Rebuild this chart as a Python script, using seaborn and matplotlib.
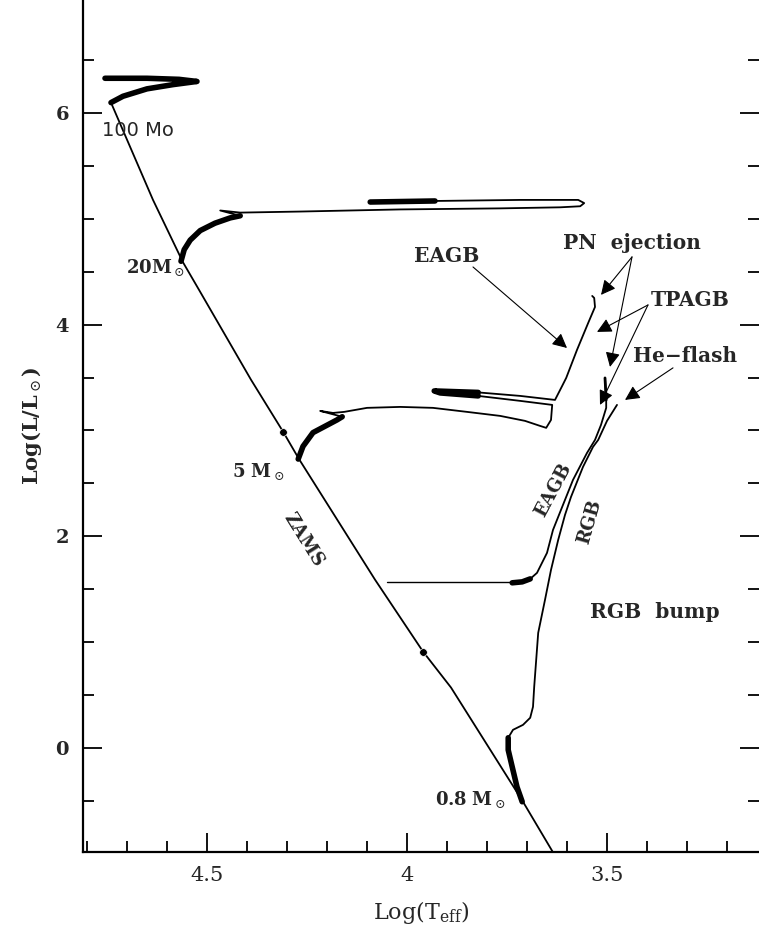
import numpy as np
import pandas as pd
import matplotlib
matplotlib.use("Agg")
import matplotlib.pyplot as plt
import seaborn as sns

# DATA (log Teff, log L/Lsun)

zams_logT = [4.74, 4.635, 4.56, 4.52, 4.39, 4.31, 4.27, 4.08, 3.96, 3.89, 3.71, 3.63]
zams_logL = [6.10, 5.18, 4.59, 4.33, 3.48, 2.99, 2.73, 1.59, 0.91, 0.57, -0.51, -1.02]

zams_dot_logT = [4.31, 3.96]
zams_dot_logL = [2.99, 0.91]

m100_logT = [4.74, 4.71, 4.65, 4.585, 4.525, 4.57, 4.65, 4.755]
m100_logL = [6.10, 6.16, 6.23, 6.27, 6.30, 6.32, 6.33, 6.33]

m20_logT = [4.565, 4.557, 4.542, 4.517, 4.48, 4.442, 4.417, 4.467, 4.417, 4.267,
            4.017, 3.767, 3.617, 3.567, 3.557, 3.572, 3.717, 3.93, 4.092]
m20_logL = [4.60, 4.71, 4.80, 4.89, 4.96, 5.01, 5.03, 5.08, 5.06, 5.07,
            5.09, 5.10, 5.11, 5.12, 5.15, 5.18, 5.18, 5.17, 5.16]

m5_logT = [4.272, 4.26, 4.235, 4.20, 4.175, 4.162, 4.217, 4.185, 4.157, 4.10,
           4.017, 3.935, 3.85, 3.767, 3.705, 3.667, 3.652, 3.64, 3.637, 3.717,
           3.822, 3.917, 3.932, 3.822, 3.717, 3.63, 3.612, 3.602, 3.575, 3.547,
           3.53, 3.532, 3.537]
m5_logL = [2.73, 2.85, 2.98, 3.05, 3.10, 3.13, 3.185, 3.166, 3.176, 3.214,
           3.223, 3.214, 3.176, 3.138, 3.091, 3.043, 3.025, 3.10, 3.242, 3.28,
           3.327, 3.355, 3.374, 3.36, 3.327, 3.289, 3.422, 3.497, 3.762, 4.017,
           4.168, 4.253, 4.272]

m08_logT = [3.712, 3.725, 3.737, 3.747, 3.747, 3.735, 3.71, 3.692, 3.685, 3.682,
            3.677, 3.672, 3.655, 3.64, 3.622, 3.605, 3.59, 3.56, 3.535, 3.522,
            3.50, 3.475]
m08_logL = [-0.51, -0.37, -0.18, -0.02, 0.095, 0.17, 0.217, 0.284, 0.388, 0.577,
            0.832, 1.087, 1.399, 1.682, 1.966, 2.202, 2.372, 2.656, 2.845, 2.911,
            3.091, 3.242]

hb_logT = [4.05, 3.74]
hb_logL = [1.57, 1.57]

agb08_logT = [3.737, 3.712, 3.692, 3.675, 3.65, 3.635, 3.612, 3.585, 3.55, 3.53,
              3.515, 3.502, 3.502, 3.505]
agb08_logL = [1.56, 1.569, 1.597, 1.654, 1.843, 2.06, 2.278, 2.533, 2.788, 2.911,
              3.053, 3.214, 3.289, 3.497]

# labels and arrows
mass_labels = ["100 Mo", "20M$_\\odot$", "5 M$_\\odot$", "0.8 M$_\\odot$"]
mass_label_logT = [4.672, 4.63, 4.372, 3.842]
mass_label_logL = [5.84, 4.537, 2.609, -0.49]

phase_labels = ["EAGB", "PN  ejection", "TPAGB", "He\u2212flash", "RGB  bump"]
phase_label_logT = [3.90, 3.4375, 3.2925, 3.305, 3.38]
phase_label_logL = [4.65, 4.773, 4.234, 3.705, 1.285]

arrow_start_logT = [3.835, 3.4375, 3.4375, 3.3975, 3.3975, 3.335]
arrow_start_logL = [4.546, 4.641, 4.641, 4.187, 4.187, 3.592]
arrow_end_logT = [3.60, 3.515, 3.4925, 3.525, 3.5175, 3.455]
arrow_end_logL = [3.78, 4.282, 3.601, 3.932, 3.242, 3.289]

# PLOT

sns.set_style("ticks")
plt.rcParams["font.family"] = ["DejaVu Serif"]
plt.rcParams["mathtext.fontset"] = "dejavuserif"

fig = plt.figure(figsize=(7.59, 9.34), dpi=100)
ax = fig.add_axes([83 / 759, 82 / 934, 676 / 759, 852 / 934])

thin = 1.3
thick = 4.0

sns.lineplot(x=zams_logT, y=zams_logL, sort=False, estimator=None, color="black", lw=thin, ax=ax)
sns.scatterplot(x=zams_dot_logT, y=zams_dot_logL, color="black", s=30, ax=ax, zorder=5)

sns.lineplot(x=m100_logT, y=m100_logL, sort=False, estimator=None, color="black", lw=thick, ax=ax)

sns.lineplot(x=m20_logT, y=m20_logL, sort=False, estimator=None, color="black", lw=thin, ax=ax)
sns.lineplot(x=m20_logT[:7], y=m20_logL[:7], sort=False, estimator=None, color="black", lw=thick, ax=ax)
sns.lineplot(x=m20_logT[17:], y=m20_logL[17:], sort=False, estimator=None, color="black", lw=thick, ax=ax)

sns.lineplot(x=m5_logT, y=m5_logL, sort=False, estimator=None, color="black", lw=thin, ax=ax)
sns.lineplot(x=m5_logT[:6], y=m5_logL[:6], sort=False, estimator=None, color="black", lw=thick, ax=ax)
sns.lineplot(x=m5_logT[20:24], y=m5_logL[20:24], sort=False, estimator=None, color="black", lw=thick, ax=ax)

sns.lineplot(x=m08_logT, y=m08_logL, sort=False, estimator=None, color="black", lw=thin, ax=ax)
sns.lineplot(x=m08_logT[:5], y=m08_logL[:5], sort=False, estimator=None, color="black", lw=thick, ax=ax)

sns.lineplot(x=hb_logT, y=hb_logL, sort=False, estimator=None, color="black", lw=1.0, ax=ax)
sns.lineplot(x=agb08_logT, y=agb08_logL, sort=False, estimator=None, color="black", lw=thin, ax=ax)
sns.lineplot(x=agb08_logT[:3], y=agb08_logL[:3], sort=False, estimator=None, color="black", lw=thick, ax=ax)
sns.lineplot(x=agb08_logT[-2:], y=agb08_logL[-2:], sort=False, estimator=None, color="black", lw=2.0, ax=ax)

# mass labels
ax.text(mass_label_logT[0], mass_label_logL[0], mass_labels[0], family="DejaVu Sans",
        fontsize=14, ha="center", va="center")
for lab, t, l in zip(mass_labels[1:], mass_label_logT[1:], mass_label_logL[1:]):
    ax.text(t, l, lab, fontsize=13, fontweight="bold", ha="center", va="center")

ax.text(4.26, 1.966, "ZAMS", fontsize=13, fontweight="bold", rotation=-58, ha="center", va="center")
ax.text(3.635, 2.44, "EAGB", fontsize=13, fontweight="bold", rotation=62, ha="center", va="center")
ax.text(3.5425, 2.136, "RGB", fontsize=13, fontweight="bold", rotation=74, ha="center", va="center")

for lab, t, l in zip(phase_labels, phase_label_logT, phase_label_logL):
    ax.text(t, l, lab, fontsize=14.5, fontweight="bold", ha="center", va="center")

for t0, l0, t1, l1 in zip(arrow_start_logT, arrow_start_logL, arrow_end_logT, arrow_end_logL):
    ax.annotate("", xy=(t1, l1), xytext=(t0, l0),
                arrowprops=dict(arrowstyle="-|>", color="black", lw=0.8,
                                mutation_scale=22, shrinkA=0, shrinkB=0))

# AXES

ax.set_xlim(4.81, 3.12)
ax.set_ylim(-0.985, 7.07)
ax.set_xticks([4.5, 4.0, 3.5])
ax.set_xticklabels(["4.5", "4", "3.5"])
ax.set_xticks(np.arange(3.2, 4.81, 0.1), minor=True)
ax.set_yticks([0, 2, 4, 6])
ax.set_yticks(np.arange(-0.5, 7.0, 0.5), minor=True)

ax.tick_params(which="both", direction="in", top=False, right=True,
               width=1.3, color="black")
ax.tick_params(axis="x", labelsize=15)
ax.tick_params(axis="y", labelsize=14)
ax.tick_params(which="major", length=14, pad=10)
ax.tick_params(which="minor", length=8)
for lab in ax.get_yticklabels():
    lab.set_fontweight("bold")

for side in ["top", "right"]:
    ax.spines[side].set_visible(False)
for side in ["left", "bottom"]:
    ax.spines[side].set_linewidth(1.6)
    ax.spines[side].set_color("black")

ax.set_xlabel("Log(T$_{\\rm eff}$)", fontsize=16, labelpad=10)
ax.set_ylabel("Log(L/L$_\\odot$)", fontsize=15, fontweight="bold", labelpad=8)

fig.savefig("out.png", dpi=100, facecolor="white")
